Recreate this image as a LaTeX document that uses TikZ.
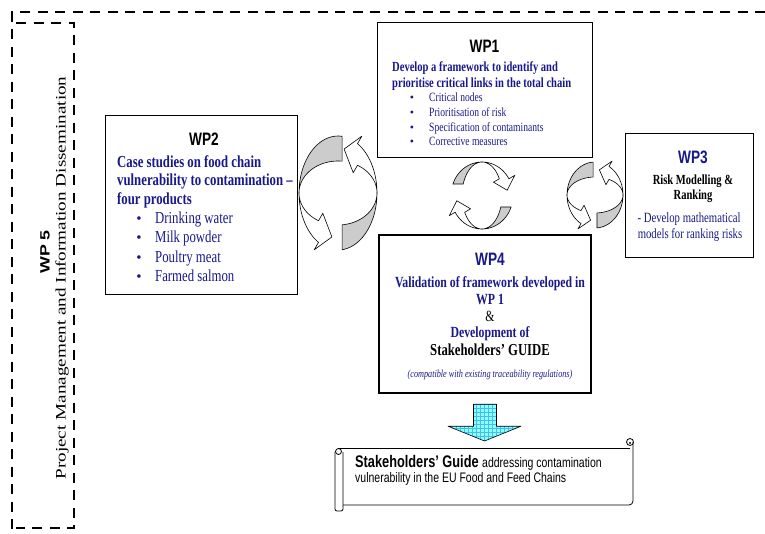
\documentclass[tikz,border=0pt]{standalone}
\usepackage{fontspec}
\setmainfont{Liberation Serif}[FakeStretch=0.76]
\newfontfamily\wpsans{Liberation Sans}[FakeStretch=0.76]
\newfontfamily\wpupserif{Liberation Serif}
\newfontfamily\wpvserif{Liberation Serif}[FakeStretch=1.32]
\newfontfamily\wpvsans{Liberation Sans}[FakeStretch=1.32]
\usetikzlibrary{positioning,calc}

\definecolor{wpblue}{RGB}{24,24,140}
\definecolor{ringgray}{RGB}{204,204,204}
\definecolor{guidecyan}{RGB}{140,255,255}
\definecolor{guidegrid}{RGB}{70,190,235}

\newcommand{\wpfs}[1]{\fontsize{#1}{#1}\selectfont}

% cx, cy, rx, ry, inner rx, inner ry, tail angle, twist angle, head angle
\newcommand{\ringarrow}[9]{%
  \pgfmathsetmacro{\ringtip}{#9+0.35*(#9-#8)}
  \pgfmathsetmacro{\ringbarb}{0.22*#3}
  \filldraw[ring, fill=ringgray] plot[domain=#7:#8] ({#1+#3*cos(\x)},{#2-#4*sin(\x)})
    -- plot[domain=#8:#7] ({#1+#5*cos(\x)},{#2-#6*sin(\x)}) -- cycle;
  \filldraw[ring, fill=white] plot[domain=#8:#9] ({#1+#3*cos(\x)},{#2-#4*sin(\x)})
    -- ({#1+(#3+\ringbarb)*cos(#9)},{#2-(#4+\ringbarb)*sin(#9)})
    -- ({#1+0.5*(#3+#5)*cos(\ringtip)},{#2-0.5*(#4+#6)*sin(\ringtip)})
    -- ({#1+(#5-\ringbarb)*cos(#9)},{#2-(#6-\ringbarb)*sin(#9)})
    -- plot[domain=#9:#8] ({#1+#5*cos(\x)},{#2-#6*sin(\x)}) -- cycle;
}

\tikzset{
  wpbox/.style={draw, line width=0.8pt, inner sep=0pt},
  wpframe/.style={line width=2.6pt, dash pattern=on 10pt off 7.5pt},
  wpline/.style={inner sep=0pt, text=wpblue},
  wpdot/.style={inner sep=0pt, text=wpblue, anchor=base},
  wptitle/.style={inner sep=0pt, anchor=base, font=\wpsans\bfseries\wpfs{18}},
  ring/.style={draw=black, line width=0.6pt, samples=24, line join=round},
  scroll/.style={draw=black, line width=0.8pt},
}

\begin{document}
\begin{tikzpicture}[x=1pt, y=-1pt]
    \useasboundingbox (0,0) rectangle (765,533);

    % WP5 frame
    \draw[wpframe] (765,12) -- (12,12) -- (12,530);
    \draw[wpframe] (16,23) -- (74,23) -- (74,528) -- (16,528);
    \node[rotate=90, inner sep=0pt, font=\wpvsans\bfseries\wpfs{13.5}] (wp5t) at (45,252) {WP 5};
    \node[rotate=90, inner sep=0pt, font=\wpvserif\wpfs{14.5}] (wp5n) at (62,278) {Project Management and Information Dissemination};

    % WP1
    \node[wpbox, minimum width=215pt, minimum height=135pt] (wp1) at (484.5,89.5) {};
    \node[wptitle] (wp1t) at (484.5,52.7) {WP1};
    \foreach \lbl [count=\i] in {Develop a framework to identify and, prioritise critical links in the total chain}
        \node[wpline, anchor=base west, font=\bfseries\wpfs{13.9}] (wp1h\i) at (392,{71.6+15.6*(\i-1)}) {\lbl};
    \foreach \lbl [count=\i] in {Critical nodes, Prioritisation of risk, Specification of contaminants, Corrective measures}{
        \node[wpdot, font=\wpupserif\wpfs{12}] (wp1d\i) at (412,{101.8+14.67*(\i-1)}) {\textbullet};
        \node[wpline, anchor=base west, font=\wpfs{12.6}] (wp1b\i) at (429,{101.8+14.67*(\i-1)}) {\lbl};}

    % WP2
    \node[wpbox, minimum width=192pt, minimum height=179pt] (wp2) at (201,204.5) {};
    \node[wptitle] (wp2t) at (204,145) {WP2};
    \foreach \lbl [count=\i] in {Case studies on food chain, vulnerability to contamination –, four products}
        \node[wpline, anchor=base west, font=\bfseries\wpfs{16.8}] (wp2h\i) at (117,{167.4+18.3*(\i-1)}) {\lbl};
    \foreach \lbl [count=\i] in {Drinking water, Milk powder, Poultry meat, Farmed salmon}{
        \node[wpdot, font=\wpupserif\wpfs{15}] (wp2d\i) at (139,{223+19.5*(\i-1)}) {\textbullet};
        \node[wpline, anchor=base west, font=\wpfs{16.8}] (wp2b\i) at (155,{223+19.5*(\i-1)}) {\lbl};}

    % WP3
    \node[wpbox, minimum width=128pt, minimum height=124pt] (wp3) at (689,195) {};
    \node[wptitle, text=wpblue] (wp3t) at (693,163.3) {WP3};
    \node[inner sep=0pt, anchor=base, font=\bfseries\wpfs{13.9}] (wp3h1) at (693,184) {Risk Modelling \&};
    \node[inner sep=0pt, anchor=base, font=\bfseries\wpfs{13.9}] (wp3h2) at (693,199) {Ranking};
    \node[wpline, anchor=base, font=\wpfs{14.1}] (wp3b1) at (689,222.3) {- Develop mathematical};
    \node[wpline, anchor=base, font=\wpfs{14.1}] (wp3b2) at (690,238.3) {models for ranking risks};

    % WP4
    \node[draw, line width=2.4pt, inner sep=0pt, minimum width=212pt, minimum height=158pt] (wp4) at (485,314) {};
    \node[wptitle, text=wpblue] (wp4t) at (490,265.5) {WP4};
    \node[wpline, anchor=base, font=\bfseries\wpfs{15.5}] (wp4h1) at (490,287.6) {Validation of framework developed in};
    \node[wpline, anchor=base, font=\bfseries\wpfs{15.5}] (wp4h2) at (490,304.3) {WP 1};
    \node[inner sep=0pt, anchor=base, font=\wpfs{15.5}] (wp4and) at (490,321) {\&};
    \node[wpline, anchor=base, font=\bfseries\wpfs{15.5}] (wp4h3) at (490,337.6) {Development of};
    \node[inner sep=0pt, anchor=base, font=\bfseries\wpfs{16.7}] (wp4g) at (490,355.4) {Stakeholders’ GUIDE};
    \node[wpline, anchor=base, font=\itshape\wpfs{10.8}] (wp4c) at (490,377) {(compatible with existing traceability regulations)};

    % circular arrows
    \ringarrow{338}{193}{39}{57}{39}{32}{84}{180}{240}
    \ringarrow{338}{193}{39}{57}{39}{32}{276}{360}{420}
    \ringarrow{482}{195.5}{31}{33.5}{20}{33.5}{160}{90}{30}
    \ringarrow{482}{195.5}{31}{33.5}{20}{33.5}{340}{270}{210}
    \ringarrow{595}{195}{28}{33}{28}{18}{94}{180}{240}
    \ringarrow{595}{195}{28}{33}{28}{18}{274}{360}{420}

    % arrow down to the guide
    \coordinate (guidetop) at (484.5,448.5);
    \begin{scope}
        \clip ($(wp4.south)+(-11.5,10)$) -- ($(wp4.south)+(11.5,10)$) -- ($(wp4.south)+(11.5,32)$)
            -- ($(wp4.south)+(36,32)$) -- ($(guidetop)+(0,-7.5)$) -- ($(wp4.south)+(-37,32)$)
            -- ($(wp4.south)+(-11.5,32)$) -- cycle;
        \fill[guidecyan] (440,398) rectangle (530,445);
        \draw[guidegrid, line width=0.3pt, step=4pt] (440,398) grid (530,445);
    \end{scope}
    \draw[line width=0.6pt, line join=round] ($(wp4.south)+(-11.5,10)$) -- ($(wp4.south)+(11.5,10)$) -- ($(wp4.south)+(11.5,32)$)
        -- ($(wp4.south)+(36,32)$) -- ($(guidetop)+(0,-7.5)$) -- ($(wp4.south)+(-37,32)$)
        -- ($(wp4.south)+(-11.5,32)$) -- cycle;

    % scroll with the guide
    \draw[scroll] (338,448.5) -- (630,448.5);
    \draw[scroll, rounded corners=4pt] (633,442) -- (633,505) -- (343,505);
    \draw[scroll] (630,442) circle (3.5pt);
    \fill (630,443) circle (1.2pt);
    \draw[scroll, rounded corners=2pt] (343,452) -- (343,511) -- (335,511) -- (335,452);
    \draw[scroll] (338.5,451.5) circle (3pt);
    \node[inner sep=0pt, anchor=base west, font=\wpsans\bfseries\wpfs{16.8}] (guide1) at (355,467.5) {Stakeholders’ Guide {\mdseries\wpfs{13.8}addressing contamination}};
    \node[inner sep=0pt, anchor=base west, font=\wpsans\wpfs{13.8}] (guide2) at (355,482.7) {vulnerability in the EU Food and Feed Chains};
\end{tikzpicture}
\end{document}
